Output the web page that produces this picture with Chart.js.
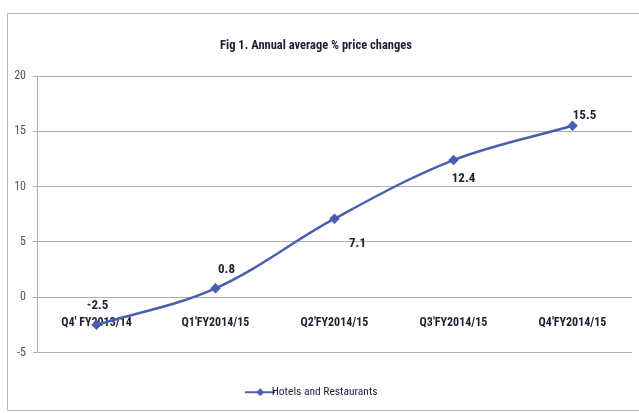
<!DOCTYPE html>
<html>
<head>
<meta charset="utf-8">
<script src="https://cdn.jsdelivr.net/npm/chart.js@4"></script>
<style>
  body { margin: 0; background: #fff; }
  #wrap { position: relative; width: 639px; height: 413px; overflow: hidden; }
  #frame { position: absolute; left: 7px; top: 13px; width: 640px; height: 396px; border: 1px solid #b8b8b8; }
  canvas { position: absolute; left: 0; top: 0; }
</style>
</head>
<body>
<div id="wrap">
  <div id="frame"></div>
  <canvas id="priceChart" width="639" height="413"></canvas>
</div>
<script>
const quarters = ["Q4' FY2013/14", "Q1'FY2014/15", "Q2'FY2014/15", "Q3'FY2014/15", "Q4'FY2014/15"];
const hotelsRestaurants = [-2.5, 0.8, 7.1, 12.4, 15.5];
const yTicks = [-5, 0, 5, 10, 15, 20];

const FONT = "'Roboto Condensed', 'DejaVu Sans Condensed', sans-serif";
const LINE_COLOR = '#4a5fae';

// where each value label sits relative to its point
const labelOffsets = [[1, -19], [11, -19], [23, 25], [10, 19], [12, -10]];

const valueLabels = {
    id: 'valueLabels',
    afterDatasetsDraw(chart) {
        const ctx = chart.ctx;
        const meta = chart.getDatasetMeta(0);
        ctx.save();
        ctx.font = "bold 13px " + FONT;
        ctx.fillStyle = '#1c2030';
        ctx.textAlign = 'center';
        ctx.textBaseline = 'middle';
        meta.data.forEach((pt, i) => {
            const off = labelOffsets[i];
            ctx.fillText(hotelsRestaurants[i].toFixed(1), pt.x + off[0], pt.y + off[1]);
        });
        ctx.restore();
    }
};

// legend symbol: short line with a diamond
const legendIcon = document.createElement('canvas');
legendIcon.width = 30;
legendIcon.height = 8;
(function () {
    const c = legendIcon.getContext('2d');
    c.strokeStyle = LINE_COLOR;
    c.lineWidth = 2;
    c.beginPath(); c.moveTo(0, 4); c.lineTo(30, 4); c.stroke();
    c.fillStyle = LINE_COLOR;
    c.beginPath(); c.moveTo(15, 0); c.lineTo(19, 4); c.lineTo(15, 8); c.lineTo(11, 4); c.closePath(); c.fill();
})();

const ctx = document.getElementById('priceChart').getContext('2d');
new Chart(ctx, {
    type: 'line',
    data: {
        labels: quarters,
        datasets: [{
            label: 'Hotels and Restaurants',
            data: hotelsRestaurants,
            borderColor: LINE_COLOR,
            backgroundColor: LINE_COLOR,
            borderWidth: 2.5,
            tension: 0.35,
            pointStyle: 'rectRot',
            pointRadius: 3.5,
            pointHoverRadius: 3.5
        }]
    },
    options: {
        responsive: false,
        animation: false,
        layout: { padding: { left: 0, right: 7, top: 0, bottom: 5 } },
        scales: {
            x: {
                type: 'category',
                offset: true,
                position: { y: 0 },
                grid: { display: false, drawTicks: false },
                border: { display: false },
                ticks: {
                    padding: 19,
                    color: '#1c2030',
                    font: { family: FONT, size: 12, weight: 'bold' },
                    maxRotation: 0,
                    autoSkip: false
                }
            },
            y: {
                min: -5,
                max: 20,
                afterBuildTicks: (axis) => { axis.ticks = yTicks.map(v => ({ value: v })); },
                afterFit: (axis) => { axis.width = 37; },
                grid: { color: '#a9b0b8', lineWidth: 1, drawTicks: true, tickLength: 4 },
                border: { display: true, color: '#b0b0b0' },
                ticks: {
                    padding: 7,
                    color: '#555',
                    font: { family: FONT, size: 12 }
                }
            }
        },
        plugins: {
            title: {
                display: true,
                text: 'Fig 1. Annual average % price changes',
                color: '#1c2030',
                font: { family: FONT, size: 12.5, weight: 'bold' },
                padding: { top: 38, bottom: 23 }
            },
            legend: {
                position: 'bottom',
                labels: {
                    usePointStyle: true,
                    color: '#1c2030',
                    font: { family: FONT, size: 11.5 },
                    padding: 34,
                    generateLabels: (chart) => [{
                        text: chart.data.datasets[0].label,
                        pointStyle: legendIcon,
                        fillStyle: LINE_COLOR,
                        strokeStyle: LINE_COLOR,
                        lineWidth: 0,
                        datasetIndex: 0,
                        fontColor: '#1c2030'
                    }]
                }
            },
            tooltip: { enabled: false }
        }
    },
    plugins: [valueLabels]
});
</script>
</body>
</html>
